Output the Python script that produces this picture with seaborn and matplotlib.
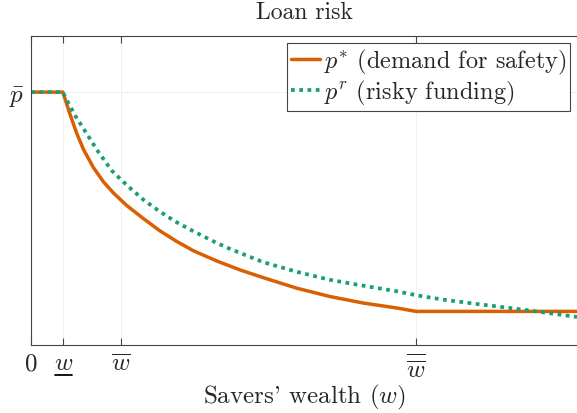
import numpy as np
import pandas as pd
import matplotlib
matplotlib.use("Agg")
import matplotlib.pyplot as plt
from matplotlib.lines import Line2D
import seaborn as sns

# wealth grid (arbitrary units) and the two risk curves
w_low, w_bar, w_bbar = 0.59, 1.65, 7.05
p_bar = 0.818

w_star = [0.0, 0.581, 0.714, 0.837, 0.958, 1.141, 1.324, 1.507, 1.753, 2.057, 2.363, 2.668,
          2.973, 3.401, 3.828, 4.255, 4.866, 5.476, 6.086, 6.698, 7.051, 10.0]
p_star = [0.818, 0.818, 0.745, 0.684, 0.633, 0.574, 0.528, 0.492, 0.451, 0.409, 0.369, 0.335,
          0.305, 0.272, 0.243, 0.218, 0.184, 0.157, 0.136, 0.120, 0.109, 0.109]

w_risky = [0.0, 0.581, 0.623, 0.806, 1.020, 1.233, 1.478, 1.753, 2.057, 2.363, 2.668, 2.973,
           3.401, 3.645, 4.255, 4.866, 5.476, 6.086, 6.698, 7.093, 7.551, 8.163, 8.773,
           9.383, 10.0]
p_risky = [0.818, 0.818, 0.802, 0.742, 0.683, 0.624, 0.564, 0.517, 0.470, 0.431, 0.397, 0.368,
           0.330, 0.311, 0.268, 0.237, 0.211, 0.192, 0.174, 0.160, 0.147, 0.133, 0.120,
           0.106, 0.091]

xticks = [0, w_low, w_bar, w_bbar]
# mathtext has no \underline, the bar under w is drawn by hand below
xticklabels = ["$0$", r"$w$", r"$\overline{w}$", r"$\overline{\overline{w}}$"]

sns.set_style("ticks")
plt.rcParams["font.family"] = ["cmr10"]
plt.rcParams["mathtext.fontset"] = "cm"
plt.rcParams["axes.formatter.use_mathtext"] = True

df1 = pd.DataFrame({"w": w_star, "p": p_star})
df2 = pd.DataFrame({"w": w_risky, "p": p_risky})

fig = plt.figure(figsize=(5.77, 4.14), dpi=100)
ax = fig.add_axes([0.054, 0.164, 0.946, 0.747])

sns.lineplot(data=df1, x="w", y="p", color="#D95F02", lw=2.5, ax=ax,
             label=r"$p^{*}$ (demand for safety)")
sns.lineplot(data=df2, x="w", y="p", color="#1B9E77", lw=2.7, ls=(0, (1, 1.2)), ax=ax,
             label=r"$p^{r}$ (risky funding)")

ax.set_xlim(0, 10)
ax.set_ylim(0, 1)
ax.set_xticks(xticks)
ax.set_xticklabels(xticklabels)
ax.set_yticks([p_bar])
ax.set_yticklabels([r"$\bar{p}$"])
ax.tick_params(direction="in", top=True, right=False, labelsize=18, length=5,
               color="#444444", pad=5)
ax.grid(True, ls=":", color="#d8d8d8", lw=0.7)
ax.spines["right"].set_visible(False)
for s in ax.spines.values():
    s.set_color("#444444")
    s.set_linewidth(0.8)

ax.set_xlabel("Savers' wealth $(w)$", fontsize=18, labelpad=1)
ax.set_ylabel("")
ax.set_title("Loan risk", fontsize=17, pad=13)

leg = ax.legend(loc="upper right", fontsize=17.5, handlelength=1.2, handletextpad=0.15,
                borderpad=0.15, labelspacing=0.1, fancybox=False, framealpha=1,
                borderaxespad=0.3)
leg.get_frame().set_edgecolor("#444444")
leg.get_frame().set_linewidth(0.8)

# underline for the w_low tick label
fig.canvas.draw()
bb = ax.get_xticklabels()[1].get_window_extent()
inv = fig.transFigure.inverted()
(x0, y0), (x1, _) = inv.transform([(bb.x0 + 1, bb.y0 - 1), (bb.x1 - 1, bb.y0 - 1)])
fig.add_artist(Line2D([x0, x1], [y0, y0], color="black", lw=1.3))

fig.savefig("out.png", dpi=100)
